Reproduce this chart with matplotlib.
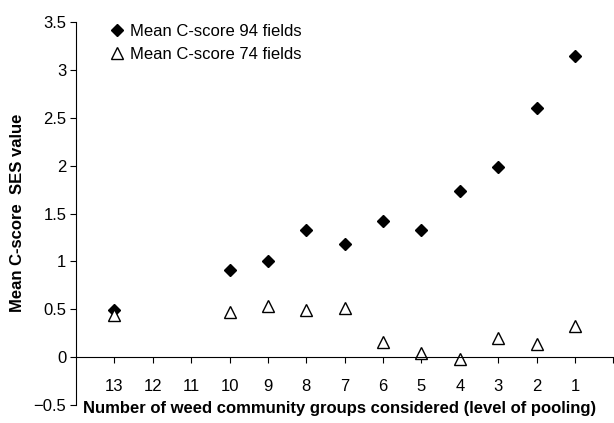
import numpy as np
import matplotlib
matplotlib.use('Agg')
import matplotlib.pyplot as plt

plt.rcParams['font.family'] = ['Liberation Sans', 'DejaVu Sans']

# Data
groups = ['13', '12', '11', '10', '9', '8', '7', '6', '5', '4', '3', '2', '1']
mean_94 = [0.49, np.nan, np.nan, 0.91, 1.00, 1.33, 1.18, 1.42, 1.33, 1.73, 1.99, 2.60, 3.15]
mean_74 = [0.44, np.nan, np.nan, 0.47, 0.53, 0.49, 0.51, 0.16, 0.045, -0.02, 0.20, 0.14, 0.33]
y_ticks = [-0.5, 0, 0.5, 1, 1.5, 2, 2.5, 3, 3.5]
y_labels = ['\u22120.5', '0', '0.5', '1', '1.5', '2', '2.5', '3', '3.5']


def main():
    fig = plt.figure(figsize=(6.14, 4.23), dpi=100)
    ax = fig.add_axes([76 / 614, 1 - 405 / 423, 1 - 76 / 614 - 0.001, (405 - 22) / 423])

    pos = np.arange(1, len(groups) + 1)
    ax.plot(pos, mean_94, linestyle='none', marker='D', markersize=6.5,
            color='black', label='Mean C-score 94 fields')
    ax.plot(pos, mean_74, linestyle='none', marker='^', markersize=8,
            markerfacecolor='white', markeredgecolor='black', markeredgewidth=1,
            label='Mean C-score 74 fields')

    ax.set_xlim(0, len(groups) + 1)
    ax.set_ylim(-0.5, 3.5)

    # axes look: left spine + x line at zero
    ax.spines['top'].set_visible(False)
    ax.spines['right'].set_visible(False)
    ax.spines['bottom'].set_position(('data', 0))

    ax.set_xticks(list(pos) + [len(groups) + 1])
    ax.set_xticklabels(groups + [''])
    ax.tick_params(axis='x', direction='out', length=4, pad=12, labelsize=12)
    ax.set_yticks(y_ticks)
    ax.set_yticklabels(y_labels)
    ax.tick_params(axis='y', direction='out', length=4, pad=3, labelsize=12)

    ax.legend(loc='upper left', bbox_to_anchor=(0.03, 1.035), frameon=False,
              fontsize=12, handletextpad=0.2, labelspacing=0.5, handlelength=1.2)

    fig.text(340 / 614, 1 - 408 / 423,
             'Number of weed community groups considered (level of pooling)',
             ha='center', va='center', fontsize=12, fontweight='bold')
    fig.text(18 / 614, 1 - 213 / 423, 'Mean C-score  SES value',
             ha='center', va='center', rotation=90, fontsize=12, fontweight='bold')

    fig.savefig('out.png', dpi=100)


if __name__ == '__main__':
    main()
